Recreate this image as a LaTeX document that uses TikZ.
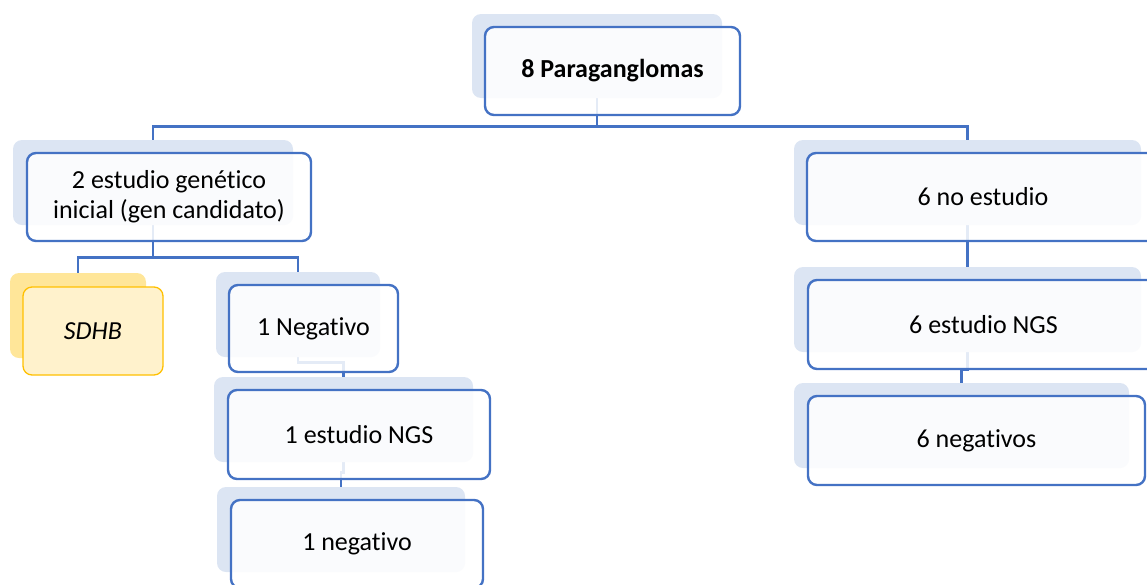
\documentclass[tikz,border=0pt]{standalone}
\usepackage{fontspec}
\setmainfont{Carlito}[Ligatures={NoCommon}]
\usetikzlibrary{backgrounds}
\definecolor{bord}{HTML}{4472C4}
\definecolor{shad}{HTML}{DCE5F3}
\definecolor{ybord}{HTML}{FFC000}
\definecolor{yfill}{HTML}{FFF2CC}
\definecolor{yshad}{HTML}{FFE699}
\begin{document}
\begin{tikzpicture}[x=1pt,y=-1pt,
  box/.style={draw=bord, line width=2.4pt, rounded corners=9pt, fill=white, fill opacity=0.86, text opacity=1,
    font=\fontsize{26}{30}\selectfont, align=center, inner sep=0pt},
  ybox/.style={draw=ybord, line width=1.3pt, rounded corners=9pt, fill=yfill,
    font=\fontsize{26}{30}\selectfont\itshape, align=center, inner sep=0pt},
  shadowbox/.style={fill=shad, rounded corners=9pt, inner sep=0pt},
  yshadowbox/.style={fill=yshad, rounded corners=9pt, inner sep=0pt},
  link/.style={draw=bord, line width=2.6pt}]
\useasboundingbox (0,0) rectangle (1147,584);
\clip (0,0) rectangle (1147,584);
% shadows
\node[shadowbox, minimum width=250pt, minimum height=84pt] (stop) at (597,56) {};
\node[shadowbox, minimum width=280pt, minimum height=85pt] (slft) at (153,182.5) {};
\node[yshadowbox, minimum width=136pt, minimum height=85pt] (ssdhb) at (78,315.5) {};
\node[shadowbox, minimum width=164pt, minimum height=85pt] (sneg1) at (298,314.5) {};
\node[shadowbox, minimum width=259pt, minimum height=85pt] (sngs1) at (343.5,419.5) {};
\node[shadowbox, minimum width=248pt, minimum height=85pt] (snegb) at (341,529.5) {};
\node[shadowbox, minimum width=347pt, minimum height=85pt] (sno6) at (967.5,182.5) {};
\node[shadowbox, minimum width=347pt, minimum height=85pt] (sngs6) at (967.5,309.5) {};
\node[shadowbox, minimum width=335pt, minimum height=85pt] (sneg6) at (961.5,425.5) {};
% boxes
\node[box, minimum width=255pt, minimum height=88pt, font=\fontsize{26}{30}\selectfont\bfseries] (top) at (612.5,71) {8 Paraganglomas};
\node[box, minimum width=284pt, minimum height=88pt] (lft) at (169,197) {2 estudio genético\\inicial (gen candidato)};
\node[ybox, minimum width=140pt, minimum height=88pt] (sdhb) at (93,331) {SDHB};
\node[box, minimum width=169pt, minimum height=87pt] (neg1) at (313.5,328.5) {1 Negativo};
\node[box, minimum width=262pt, minimum height=89pt] (ngs1) at (359,434.5) {1 estudio NGS};
\node[box, minimum width=252pt, minimum height=88pt] (negb) at (357,544) {1 negativo};
\node[box, minimum width=352pt, minimum height=88pt] (no6) at (983,197) {6 no estudio};
\node[box, minimum width=351pt, minimum height=89pt] (ngs6) at (983.5,324.5) {6 estudio NGS};
\node[box, minimum width=337pt, minimum height=89pt] (neg6) at (976.5,440.5) {6 negativos};
% connectors
\begin{scope}[on background layer]
\draw[link] (stop.center) -- (stop.south) -- ++(0,28) -| (slft.north);
\draw[link] (stop.south) -- ++(0,28) -| (sno6.north);
\draw[link] (slft.center) -- (slft.south) -- ++(0,32) -| (ssdhb.north);
\draw[link] (slft.south) -- ++(0,32) -| (sneg1.north);
\draw[link] (sneg1.center) -- (sneg1.south) -- ++(0,5) -| (sngs1.north);
\draw[link] (sngs1.center) -- (sngs1.south) -- ++(0,10) -| (snegb.north);
\draw[link] (sno6.center) -- (sno6.south) -- (sngs6.north);
\draw[link] (sngs6.center) -- (sngs6.south) -- ++(0,17) -| (sneg6.north);
\end{scope}
\end{tikzpicture}
\end{document}
